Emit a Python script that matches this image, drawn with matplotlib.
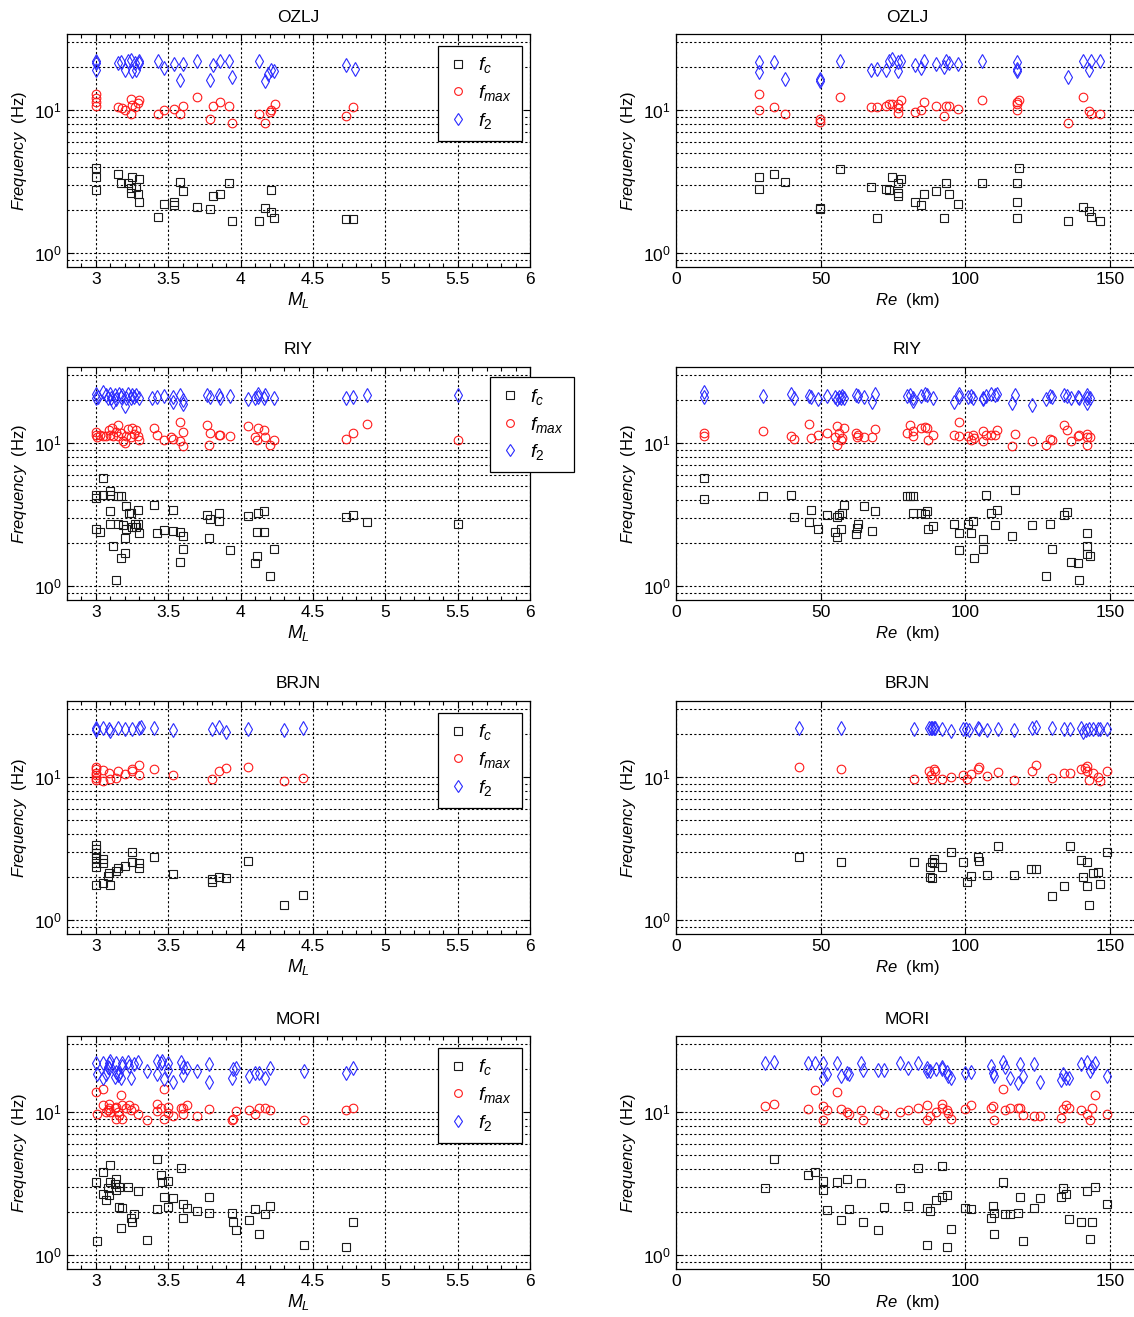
import matplotlib.pyplot as plt
from matplotlib.ticker import LogLocator, NullFormatter, MultipleLocator, FixedLocator, FixedFormatter

# --- fontes parecidas com Arial ---
plt.rcParams['font.family'] = ['Liberation Sans', 'DejaVu Sans']
plt.rcParams['mathtext.fontset'] = 'custom'
plt.rcParams['mathtext.rm'] = 'Liberation Sans'
plt.rcParams['mathtext.it'] = 'Liberation Sans:italic'
plt.rcParams['mathtext.bf'] = 'Liberation Sans:bold'

# --- DADOS (x, frequencia em Hz) ---
# OZLJ
ozlj_ml_fc = [(3.0, 3.92), (3.0, 3.42), (3.0, 2.76), (3.15, 3.56), (3.17, 3.08), (3.22, 3.08), (3.25, 3.42),
              (3.24, 2.84), (3.28, 2.92), (3.30, 3.30), (3.24, 2.62), (3.29, 2.59), (3.30, 2.27), (3.43, 1.80),
              (3.47, 2.20), (3.54, 2.29), (3.54, 2.18), (3.58, 3.16), (3.60, 2.73), (3.70, 2.11), (3.79, 2.05),
              (3.81, 2.52), (3.86, 2.59), (3.92, 3.11), (3.94, 1.69), (4.13, 1.67), (4.17, 2.08), (4.21, 2.79),
              (4.21, 1.95), (4.23, 1.77), (4.73, 1.74), (4.78, 1.74)]
ozlj_ml_fmax = [(3.0, 13.0), (3.0, 12.2), (3.0, 11.5), (3.0, 10.7), (3.15, 10.5), (3.18, 10.3), (3.20, 10.0),
                (3.24, 12.0), (3.24, 9.5), (3.25, 10.9), (3.27, 10.5), (3.29, 11.2), (3.30, 11.8), (3.43, 9.5),
                (3.47, 10.0), (3.54, 10.2), (3.58, 9.5), (3.60, 10.7), (3.70, 12.3), (3.79, 8.7), (3.81, 10.8),
                (3.86, 11.4), (3.92, 10.7), (3.94, 8.1), (4.13, 9.4), (4.17, 8.2), (4.21, 10.0), (4.20, 9.7),
                (4.24, 11.1), (4.73, 9.1), (4.78, 10.5)]
ozlj_ml_f2 = [(3.0, 22.2), (3.0, 21.3), (3.0, 19.2), (3.15, 21.6), (3.17, 21.9), (3.20, 19.2), (3.22, 22.0),
              (3.24, 22.6), (3.25, 18.9), (3.27, 21.3), (3.28, 19.2), (3.30, 22.0), (3.30, 21.3), (3.43, 22.0),
              (3.47, 19.7), (3.54, 21.0), (3.60, 21.0), (3.58, 16.3), (3.70, 22.0), (3.79, 16.3), (3.81, 20.7),
              (3.86, 22.0), (3.92, 22.0), (3.94, 17.2), (4.13, 22.0), (4.17, 16.1), (4.19, 18.0), (4.21, 19.0),
              (4.23, 18.9), (4.73, 20.6), (4.79, 19.6)]
ozlj_re_fc = [(28.7, 3.41), (28.7, 2.81), (33.8, 3.56), (37.5, 3.16), (49.6, 2.08), (49.6, 2.03), (56.8, 3.86),
              (67.5, 2.89), (69.5, 1.75), (72.5, 2.82), (73.6, 2.76), (74.5, 3.39), (76.8, 3.08), (76.8, 2.65),
              (76.8, 2.51), (77.6, 3.30), (82.7, 2.29), (84.7, 2.19), (85.7, 2.58), (89.8, 2.73), (92.5, 1.75),
              (93.4, 3.11), (94.4, 2.59), (97.6, 2.20), (105.6, 3.08), (117.7, 3.08), (118.0, 2.27), (117.8, 1.77),
              (118.7, 3.92), (135.4, 1.69), (140.6, 2.11), (142.7, 1.97), (143.5, 1.80), (146.6, 1.68)]
ozlj_re_fmax = [(28.7, 13.0), (28.7, 10.1), (33.8, 10.5), (37.5, 9.5), (49.6, 8.7), (49.6, 8.3), (56.8, 12.3),
                (67.5, 10.5), (69.5, 10.5), (72.5, 10.8), (73.6, 11.0), (74.5, 11.0), (76.8, 11.0), (76.8, 10.4),
                (76.8, 9.6), (77.6, 11.8), (82.7, 9.8), (84.7, 10.0), (85.7, 11.4), (89.8, 10.7), (92.5, 9.1),
                (93.4, 10.7), (94.4, 10.7), (97.6, 10.2), (105.6, 11.9), (117.7, 10.1), (117.7, 11.1),
                (118.0, 11.5), (118.7, 11.9), (135.4, 8.2), (140.6, 12.3), (142.7, 9.9), (143.5, 9.5), (146.6, 9.4)]
ozlj_re_f2 = [(28.7, 21.7), (28.7, 18.4), (33.8, 21.7), (37.5, 16.5), (49.6, 16.6), (49.6, 16.1), (56.8, 22.2),
              (67.5, 19.0), (69.5, 19.5), (72.5, 19.0), (73.6, 22.2), (74.5, 22.8), (76.8, 21.7), (76.8, 18.7),
              (77.6, 22.2), (82.7, 20.8), (84.7, 19.7), (85.7, 22.0), (89.8, 21.0), (92.5, 20.2), (93.4, 22.2),
              (94.4, 21.6), (97.6, 21.0), (105.6, 22.0), (117.7, 21.7), (117.7, 18.7), (118.0, 19.4),
              (135.4, 17.0), (140.6, 22.0), (142.7, 19.0), (143.5, 22.0), (146.6, 22.0)]

# RIY
riy_ml_fc = [(3.0, 4.38), (3.0, 4.15), (3.0, 2.52), (3.03, 2.38), (3.05, 5.74), (3.05, 4.38), (3.10, 4.67),
             (3.10, 4.33), (3.10, 3.34), (3.10, 2.73), (3.12, 1.92), (3.14, 1.10), (3.15, 2.73), (3.15, 4.26),
             (3.17, 4.26), (3.17, 1.58), (3.19, 2.69), (3.20, 1.72), (3.20, 2.16), (3.21, 2.52), (3.21, 3.62),
             (3.23, 3.28), (3.24, 3.28), (3.25, 2.61), (3.27, 2.72), (3.28, 2.61), (3.29, 2.72), (3.29, 3.40),
             (3.30, 2.35), (3.40, 3.72), (3.42, 2.37), (3.47, 2.48), (3.53, 3.40), (3.53, 2.42), (3.58, 2.38),
             (3.60, 2.26), (3.60, 1.83), (3.58, 1.48), (3.77, 3.16), (3.79, 2.96), (3.78, 2.19), (3.85, 2.84),
             (3.85, 3.25), (3.93, 1.79), (4.05, 3.08), (4.12, 3.23), (4.11, 2.38), (4.16, 2.38), (4.16, 3.34),
             (4.11, 1.63), (4.10, 1.46), (4.20, 1.18), (4.23, 1.83), (4.73, 3.03), (4.78, 3.13), (4.87, 2.81),
             (5.50, 2.73)]
riy_ml_fmax = [(3.0, 12.0), (3.0, 11.5), (3.01, 11.1), (3.03, 11.5), (3.05, 11.3), (3.07, 11.2), (3.09, 12.4),
               (3.10, 11.5), (3.11, 12.7), (3.12, 11.3), (3.14, 12.0), (3.15, 13.5), (3.15, 11.2), (3.17, 11.8),
               (3.19, 10.4), (3.20, 10.0), (3.21, 11.2), (3.22, 12.6), (3.24, 11.1), (3.25, 12.8), (3.26, 11.7),
               (3.28, 12.3), (3.29, 11.2), (3.30, 10.6), (3.40, 12.8), (3.42, 11.5), (3.47, 10.6), (3.52, 11.1),
               (3.53, 10.8), (3.58, 14.1), (3.60, 12.0), (3.58, 10.4), (3.60, 9.6), (3.77, 13.5), (3.79, 11.9),
               (3.78, 9.7), (3.85, 11.5), (3.86, 11.5), (3.93, 11.2), (4.05, 13.2), (4.12, 12.8), (4.10, 11.1),
               (4.11, 10.6), (4.16, 12.3), (4.17, 11.1), (4.20, 9.7), (4.23, 10.6), (4.73, 10.7), (4.78, 11.9),
               (4.87, 13.7), (5.50, 10.6)]
riy_ml_f2 = [(3.0, 22.1), (3.0, 20.9), (3.015, 21.1), (3.05, 22.9), (3.07, 21.7), (3.085, 20.9), (3.10, 22.1),
             (3.105, 20.6), (3.12, 19.5), (3.135, 21.7), (3.14, 20.4), (3.16, 22.1), (3.17, 21.1), (3.18, 21.7),
             (3.20, 18.2), (3.205, 20.6), (3.225, 22.1), (3.24, 20.9), (3.25, 21.7), (3.26, 21.1), (3.28, 21.7),
             (3.30, 20.9), (3.39, 20.9), (3.42, 21.1), (3.47, 21.3), (3.53, 21.1), (3.53, 19.5), (3.58, 21.7),
             (3.60, 20.0), (3.60, 18.7), (3.77, 21.7), (3.79, 21.1), (3.85, 21.7), (3.86, 20.9), (3.93, 21.3),
             (4.05, 20.3), (4.10, 20.9), (4.12, 22.1), (4.12, 21.1), (4.16, 20.9), (4.17, 21.7), (4.23, 20.8),
             (4.73, 20.9), (4.78, 21.1), (4.87, 21.7), (5.50, 21.7)]
riy_re_fc = [(9.8, 5.74), (9.8, 4.10), (29.9, 4.26), (39.9, 4.38), (40.8, 3.03), (45.9, 2.82), (46.8, 3.41),
             (49.0, 2.53), (52.1, 3.13), (54.8, 2.40), (55.8, 2.20), (55.8, 3.03), (56.4, 3.16), (57.0, 2.52),
             (57.3, 3.28), (58.0, 3.70), (62.2, 2.32), (62.4, 2.55), (62.8, 2.72), (64.9, 3.62), (67.9, 2.44),
             (68.9, 3.34), (79.9, 4.26), (80.8, 4.31), (81.8, 4.31), (82.0, 3.28), (84.8, 3.28), (86.0, 3.21),
             (86.9, 3.37), (87.0, 2.53), (88.9, 2.66), (96.1, 2.73), (97.9, 2.35), (97.9, 1.79), (101.0, 2.73),
             (102.0, 2.37), (102.8, 2.84), (102.9, 1.58), (106.0, 2.15), (106.0, 1.83), (107.1, 4.38),
             (108.9, 3.25), (110.2, 2.69), (111.1, 3.40), (116.0, 2.25), (117.0, 4.70), (123.1, 2.69),
             (127.7, 1.18), (129.1, 2.73), (130.1, 1.83), (134.1, 3.16), (135.2, 3.32), (136.6, 1.47),
             (139.0, 1.46), (139.1, 1.10), (142.2, 2.35), (142.2, 1.92), (142.2, 1.69), (143.2, 1.63)]
riy_re_fmax = [(9.8, 11.9), (9.8, 11.3), (29.9, 12.2), (39.9, 11.3), (40.8, 10.8), (45.9, 13.7), (46.8, 10.9),
               (49.0, 11.5), (52.1, 11.9), (54.8, 11.1), (55.8, 13.2), (55.8, 9.7), (56.4, 11.8), (57.0, 10.6),
               (57.3, 10.9), (58.0, 12.8), (62.2, 11.9), (62.4, 11.1), (62.8, 11.5), (64.9, 11.1), (67.9, 11.0),
               (68.9, 12.6), (79.9, 11.9), (80.8, 13.5), (81.8, 12.2), (82.0, 11.2), (84.8, 12.8), (86.0, 13.0),
               (86.9, 12.8), (87.0, 10.6), (88.9, 11.4), (96.1, 11.4), (97.9, 14.1), (97.9, 11.2), (101.0, 11.3),
               (102.0, 10.6), (102.8, 11.5), (102.9, 10.9), (106.0, 12.2), (106.0, 10.4), (107.1, 11.4),
               (108.9, 11.5), (110.2, 11.5), (111.1, 12.3), (116.0, 9.6), (117.0, 11.6), (123.1, 10.3),
               (127.7, 9.8), (129.1, 10.8), (130.1, 10.6), (134.1, 13.5), (135.2, 12.3), (136.6, 10.4),
               (139.0, 11.3), (139.1, 11.5), (142.2, 11.6), (142.2, 11.1), (142.2, 9.8), (143.2, 11.1)]
riy_re_f2 = [(9.8, 22.9), (9.8, 21.1), (29.9, 21.3), (39.9, 22.3), (40.8, 20.6), (45.9, 21.3), (46.8, 21.1),
             (49.0, 20.3), (52.1, 21.3), (54.8, 21.1), (55.8, 20.3), (56.4, 21.1), (57.0, 20.9), (57.3, 21.3),
             (58.0, 20.9), (62.2, 21.7), (62.8, 21.3), (64.9, 21.1), (67.9, 19.5), (68.9, 22.3), (79.9, 21.3),
             (80.8, 21.7), (81.8, 20.6), (82.0, 19.7), (84.8, 21.3), (86.0, 22.1), (86.9, 21.7), (88.9, 20.9),
             (96.1, 19.5), (97.9, 21.1), (97.9, 22.1), (101.0, 21.1), (102.0, 21.3), (102.8, 20.9),
             (106.0, 20.3), (106.0, 20.9), (107.1, 21.3), (108.9, 22.1), (110.2, 21.7), (111.1, 22.3),
             (116.0, 19.0), (117.0, 21.7), (123.1, 18.5), (127.7, 20.3), (129.1, 21.3), (130.1, 21.1),
             (134.1, 21.7), (135.2, 21.3), (136.6, 20.9), (139.0, 21.1), (139.1, 20.9), (142.2, 21.7),
             (142.2, 20.6), (142.2, 19.0), (143.2, 20.9)]

# BRJN
brjn_ml_fc = [(3.0, 3.36), (3.0, 3.14), (3.0, 2.94), (3.0, 2.71), (3.0, 2.50), (3.0, 2.35), (3.0, 1.75),
              (3.05, 2.69), (3.05, 2.50), (3.05, 1.81), (3.08, 2.05), (3.09, 2.15), (3.10, 1.75), (3.14, 2.21),
              (3.15, 2.31), (3.20, 2.40), (3.25, 3.02), (3.25, 2.57), (3.30, 2.53), (3.30, 2.31), (3.40, 2.79),
              (3.53, 2.10), (3.80, 1.94), (3.80, 1.84), (3.85, 2.02), (3.90, 1.99), (4.05, 2.61), (4.30, 1.28),
              (4.43, 1.49)]
brjn_ml_fmax = [(3.0, 11.9), (3.0, 11.4), (3.0, 10.8), (3.0, 10.4), (3.0, 9.9), (3.0, 9.6), (3.05, 11.3),
                (3.05, 9.5), (3.09, 10.7), (3.10, 9.7), (3.14, 9.9), (3.15, 11.1), (3.20, 10.6), (3.25, 11.4),
                (3.25, 11.1), (3.30, 12.2), (3.30, 10.3), (3.40, 11.4), (3.53, 10.3), (3.80, 9.7), (3.85, 11.1),
                (3.90, 11.6), (4.05, 11.9), (4.30, 9.5), (4.43, 9.9)]
brjn_ml_f2 = [(3.0, 22.3), (3.0, 21.4), (3.05, 22.0), (3.09, 21.7), (3.10, 21.1), (3.15, 22.0), (3.20, 21.7),
              (3.25, 21.8), (3.30, 22.3), (3.31, 22.6), (3.40, 22.0), (3.53, 21.4), (3.80, 21.8), (3.85, 22.4),
              (3.90, 20.9), (4.05, 21.8), (4.30, 21.4), (4.43, 22.3)]
brjn_re_fc = [(42.6, 2.79), (56.9, 2.55), (82.3, 2.55), (87.8, 2.37), (88.4, 2.55), (89.2, 2.69), (89.3, 2.52),
              (87.8, 2.02), (88.4, 1.99), (91.8, 2.37), (95.0, 3.02), (99.3, 2.55), (100.5, 1.86), (101.8, 2.05),
              (104.3, 2.79), (104.6, 2.60), (107.4, 2.07), (111.2, 3.31), (116.8, 2.07), (122.6, 2.29),
              (124.4, 2.29), (129.8, 1.48), (134.2, 1.74), (136.2, 3.33), (140.0, 2.64), (140.6, 2.00),
              (142.2, 2.55), (141.9, 1.74), (142.6, 1.28), (144.0, 2.15), (146.0, 2.19), (146.5, 1.79),
              (148.8, 3.02)]
brjn_re_fmax = [(42.6, 11.9), (56.9, 11.4), (82.3, 9.7), (87.5, 11.1), (88.0, 10.3), (88.4, 9.7), (89.0, 11.4),
                (89.5, 11.1), (91.8, 9.8), (95.0, 10.0), (99.3, 10.3), (100.5, 9.7), (101.8, 10.5), (104.3, 11.4),
                (104.6, 11.9), (107.4, 10.2), (111.2, 10.9), (116.8, 9.6), (122.9, 11.1), (124.4, 12.2),
                (129.8, 9.9), (134.2, 10.7), (136.2, 10.8), (140.0, 11.4), (141.4, 11.7), (141.9, 12.0),
                (142.2, 11.1), (142.6, 9.6), (144.2, 10.7), (145.7, 10.0), (146.5, 9.4), (148.8, 11.1)]
brjn_re_f2 = [(42.6, 22.0), (56.9, 22.2), (82.3, 21.7), (87.6, 22.0), (88.0, 22.0), (88.4, 22.0), (89.0, 22.0),
              (89.5, 22.0), (91.8, 21.8), (95.0, 21.2), (99.3, 21.8), (100.2, 21.8), (101.4, 21.4), (104.3, 22.2),
              (104.6, 21.8), (107.4, 21.4), (111.2, 21.7), (116.8, 21.4), (122.9, 22.0), (124.4, 22.4),
              (129.8, 22.2), (134.2, 21.8), (136.2, 21.8), (140.0, 22.2), (140.8, 20.9), (141.7, 21.4),
              (142.6, 21.8), (144.2, 21.8), (145.7, 21.8), (146.5, 21.8), (148.8, 21.8)]

# MORI
mori_ml_fc = [(3.0, 3.27), (3.01, 1.25), (3.05, 3.85), (3.05, 2.67), (3.07, 2.44), (3.08, 2.94), (3.09, 2.64),
              (3.10, 4.28), (3.10, 3.24), (3.13, 3.14), (3.14, 3.40), (3.14, 2.86), (3.16, 2.19), (3.16, 2.99),
              (3.18, 2.13), (3.17, 1.55), (3.22, 2.99), (3.24, 1.81), (3.25, 1.72), (3.26, 1.94), (3.29, 2.82),
              (3.35, 1.28), (3.42, 4.69), (3.42, 2.10), (3.45, 3.65), (3.46, 3.27), (3.47, 2.55), (3.50, 3.30),
              (3.50, 2.19), (3.53, 2.50), (3.59, 4.06), (3.60, 2.29), (3.60, 1.83), (3.63, 2.15), (3.70, 2.05),
              (3.78, 2.57), (3.78, 1.97), (3.94, 1.97), (3.95, 1.72), (3.97, 1.49), (4.06, 1.75), (4.10, 2.11),
              (4.13, 1.40), (4.17, 1.94), (4.20, 2.22), (4.44, 1.18), (4.73, 1.15), (4.78, 1.72)]
mori_ml_fmax = [(3.0, 13.9), (3.01, 9.7), (3.05, 14.5), (3.05, 11.2), (3.07, 10.0), (3.08, 10.3), (3.09, 11.4),
                (3.09, 10.8), (3.10, 10.1), (3.13, 10.8), (3.14, 9.0), (3.14, 10.9), (3.15, 10.0), (3.16, 9.6),
                (3.17, 13.2), (3.18, 9.0), (3.18, 11.2), (3.21, 10.8), (3.23, 11.2), (3.24, 10.3), (3.26, 10.7),
                (3.29, 9.7), (3.35, 8.8), (3.42, 11.4), (3.42, 10.2), (3.45, 10.7), (3.47, 14.5), (3.47, 9.0),
                (3.50, 10.9), (3.50, 9.9), (3.53, 9.5), (3.59, 10.8), (3.60, 10.7), (3.60, 9.7), (3.63, 11.3),
                (3.70, 9.5), (3.78, 10.6), (3.94, 8.8), (3.95, 9.0), (3.97, 10.2), (4.06, 10.4), (4.10, 9.8),
                (4.13, 10.7), (4.17, 10.8), (4.20, 10.3), (4.44, 8.8), (4.73, 10.3), (4.78, 10.7)]
mori_ml_f2 = [(3.0, 22.2), (3.01, 18.4), (3.05, 22.2), (3.05, 17.3), (3.07, 18.4), (3.08, 20.9), (3.09, 22.2),
              (3.09, 20.3), (3.10, 23.0), (3.13, 17.8), (3.14, 19.0), (3.14, 22.2), (3.15, 18.2), (3.16, 18.5),
              (3.17, 17.3), (3.18, 22.2), (3.18, 21.2), (3.22, 22.6), (3.23, 21.2), (3.24, 17.3), (3.26, 21.7),
              (3.29, 22.6), (3.35, 19.6), (3.42, 23.0), (3.42, 18.4), (3.45, 22.2), (3.46, 22.9), (3.47, 17.1),
              (3.50, 22.2), (3.50, 19.8), (3.53, 16.4), (3.59, 22.6), (3.60, 20.9), (3.60, 18.2), (3.63, 20.5),
              (3.70, 19.4), (3.78, 21.7), (3.78, 16.2), (3.94, 17.5), (3.95, 20.1), (3.97, 20.3), (4.06, 17.9),
              (4.10, 18.7), (4.13, 18.7), (4.17, 17.5), (4.20, 20.5), (4.44, 19.6), (4.73, 18.9), (4.78, 20.3)]
mori_re_fc = [(30.9, 2.97), (34.0, 4.69), (45.7, 3.65), (48.0, 3.85), (50.7, 3.30), (50.7, 2.86), (52.1, 2.07),
              (55.8, 3.27), (56.9, 1.75), (59.0, 3.40), (59.8, 2.11), (63.8, 3.22), (64.7, 1.72), (69.7, 1.49),
              (72.0, 2.19), (77.4, 2.94), (80.0, 2.22), (83.6, 4.06), (86.6, 2.15), (86.6, 1.18), (87.8, 2.05),
              (89.9, 2.44), (91.8, 2.57), (91.9, 4.24), (93.5, 2.64), (95.0, 1.53), (93.5, 1.15), (99.7, 2.15),
              (102.0, 2.11), (108.9, 1.81), (109.7, 2.22), (109.9, 1.99), (109.9, 1.40), (112.9, 3.27),
              (113.7, 1.94), (115.4, 1.94), (118.1, 1.97), (118.9, 2.57), (119.8, 1.25), (123.8, 2.13),
              (125.8, 2.50), (132.9, 2.55), (133.9, 2.94), (134.8, 2.67), (135.8, 1.79), (139.9, 1.72),
              (141.9, 2.82), (142.9, 1.29), (143.9, 1.72), (144.8, 2.99), (148.8, 2.29)]
mori_re_fmax = [(30.9, 11.1), (34.0, 11.4), (45.7, 10.6), (48.0, 14.3), (50.7, 11.0), (50.7, 8.9), (52.1, 10.3),
                (55.8, 13.9), (56.9, 10.5), (59.0, 10.1), (59.8, 9.8), (63.8, 10.3), (64.7, 8.9), (69.7, 10.3),
                (72.0, 9.7), (77.4, 10.1), (80.0, 10.3), (83.6, 10.8), (86.6, 11.3), (86.9, 8.8), (87.8, 9.4),
                (89.9, 10.1), (91.8, 11.4), (91.9, 10.7), (93.5, 10.4), (93.9, 9.9), (95.0, 9.0), (99.7, 10.5),
                (102.0, 11.2), (108.9, 10.7), (109.7, 11.1), (109.9, 8.8), (112.9, 14.5), (113.7, 10.3),
                (115.4, 10.8), (118.1, 10.7), (118.9, 10.7), (119.8, 9.6), (123.8, 9.5), (125.8, 9.5),
                (132.9, 9.1), (133.9, 10.6), (134.8, 11.2), (135.8, 10.8), (139.9, 10.4), (141.9, 9.8),
                (142.9, 8.8), (143.9, 10.7), (144.8, 13.2), (148.8, 9.7)]
mori_re_f2 = [(30.9, 22.2), (34.0, 22.6), (45.7, 22.2), (48.0, 22.2), (50.7, 22.2), (50.7, 17.5), (52.1, 18.4),
              (55.8, 22.2), (56.9, 17.9), (59.0, 18.7), (59.8, 18.5), (63.8, 22.2), (64.7, 19.8), (69.7, 19.8),
              (72.0, 19.8), (77.4, 22.2), (80.0, 20.3), (83.6, 22.2), (86.6, 20.3), (86.9, 19.6), (87.8, 19.6),
              (89.9, 20.0), (91.8, 20.6), (91.9, 20.0), (93.5, 19.2), (93.9, 18.0), (95.0, 17.5), (99.7, 18.7),
              (102.0, 19.2), (108.9, 21.2), (109.7, 18.7), (109.9, 18.0), (112.9, 22.6), (113.7, 20.6),
              (115.4, 17.5), (118.1, 16.1), (118.9, 21.7), (119.8, 18.0), (123.8, 21.8), (125.8, 16.4),
              (132.9, 16.8), (133.9, 18.4), (134.8, 17.3), (135.8, 17.3), (139.9, 21.8), (141.9, 22.6),
              (142.9, 19.6), (143.9, 20.6), (144.8, 22.2), (148.8, 18.0)]

estacoes = ['OZLJ', 'RIY', 'BRJN', 'MORI']
dados_ml = [(ozlj_ml_fc, ozlj_ml_fmax, ozlj_ml_f2), (riy_ml_fc, riy_ml_fmax, riy_ml_f2),
            (brjn_ml_fc, brjn_ml_fmax, brjn_ml_f2), (mori_ml_fc, mori_ml_fmax, mori_ml_f2)]
dados_re = [(ozlj_re_fc, ozlj_re_fmax, ozlj_re_f2), (riy_re_fc, riy_re_fmax, riy_re_f2),
            (brjn_re_fc, brjn_re_fmax, brjn_re_f2), (mori_re_fc, mori_re_fmax, mori_re_f2)]

rotulos = [r'$f_{\mathit{c}}$', r'$f_{\mathit{max}}$', r'$f_{\mathit{2}}$']
marcadores = [dict(marker='s', mec='#1a1a1a', ms=6.2),
              dict(marker='o', mec='#ff1a1a', ms=6.2),
              dict(marker='d', mec='#2a2aff', ms=7.0)]

# --- LAYOUT (em pixels da figura 1134x1317) ---
W, H = 1134, 1317
fig = plt.figure(figsize=(W / 100, H / 100), dpi=100)
topos = [34, 367, 701, 1036]
alt = 233
larg = 463


def desenha(ax, series, titulo, lado):
    for pts, est, rot in zip(series, marcadores, rotulos):
        x = [p[0] for p in pts]
        y = [p[1] for p in pts]
        ax.plot(x, y, ls='none', mfc='none', mew=0.8, label=rot, **est)

    ax.set_yscale('log')
    ax.set_ylim(0.801, 34.2)
    ax.yaxis.set_major_locator(LogLocator(base=10, numticks=5))
    ax.yaxis.set_minor_locator(LogLocator(base=10, subs=range(2, 10), numticks=10))
    ax.yaxis.set_minor_formatter(NullFormatter())

    if lado == 'ml':
        ax.set_xlim(2.8, 6)
        ticks = [3, 3.5, 4, 4.5, 5, 5.5, 6]
        ax.xaxis.set_major_locator(FixedLocator(ticks))
        ax.xaxis.set_major_formatter(FixedFormatter(['3', '3.5', '4', '4.5', '5', '5.5', '6']))
        ax.xaxis.set_minor_locator(MultipleLocator(0.1))
        ax.set_xlabel(r'$M_L$', fontsize=13, labelpad=2)
    else:
        ax.set_xlim(0, 160)
        ax.xaxis.set_major_locator(FixedLocator([0, 50, 100, 150]))
        ax.set_xlabel(r'$\mathit{Re}$  (km)', fontsize=12, labelpad=3)

    # grade pontilhada estilo MATLAB
    ax.grid(True, which='major', axis='x', color='k', ls=(0, (2, 2)), lw=0.8)
    ax.grid(True, which='both', axis='y', color='k', ls=(0, (2, 2)), lw=0.8)

    ax.tick_params(which='both', direction='in', top=True, right=True, labelsize=12.5)
    ax.tick_params(which='major', length=5, width=0.8)
    ax.tick_params(which='minor', length=3, width=0.8)
    ax.tick_params(axis='y', which='minor', length=0)
    for s in ax.spines.values():
        s.set_linewidth(0.9)

    ax.set_ylabel(r'$\mathit{Frequency}$  (Hz)', fontsize=12, labelpad=4)
    ax.set_title(titulo, fontsize=12.5, pad=9)


for i, nome in enumerate(estacoes):
    baixo = 1 - (topos[i] + alt) / H
    ax1 = fig.add_axes([67 / W, baixo, larg / W, alt / H])
    desenha(ax1, dados_ml[i], nome, 'ml')
    ax2 = fig.add_axes([676 / W, baixo, larg / W, alt / H])
    desenha(ax2, dados_re[i], nome, 're')

    # legenda só no painel da esquerda
    if nome == 'RIY':
        ancora = (1.094, 0.957)
    else:
        ancora = (0.982, 0.95)
    leg = ax1.legend(loc='upper right', bbox_to_anchor=ancora, fontsize=14, fancybox=False,
                     framealpha=1, edgecolor='k', handlelength=1.0, handletextpad=0.55,
                     labelspacing=0.4, borderpad=0.5, markerscale=0.9, borderaxespad=0)
    leg.get_frame().set_linewidth(0.9)

fig.savefig('out.png', dpi=100)
